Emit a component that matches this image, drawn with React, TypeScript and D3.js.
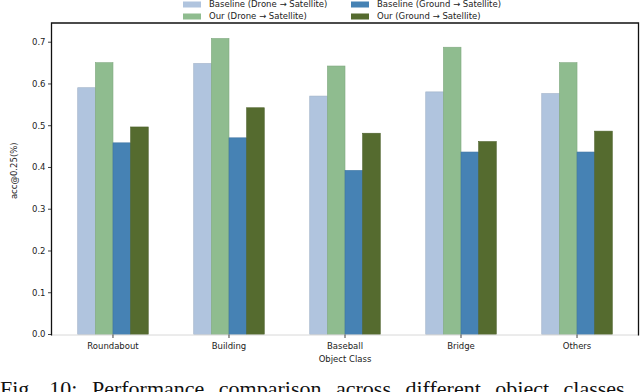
import React, { useRef, useEffect } from "react";
import * as d3 from "d3";

const categories = ["Roundabout", "Building", "Baseball", "Bridge", "Others"];
const seriesNames = [
  "Baseline (Drone \u2192 Satellite)",
  "Our (Drone \u2192 Satellite)",
  "Baseline (Ground \u2192 Satellite)",
  "Our (Ground \u2192 Satellite)",
];
const baselineDrone = [0.591, 0.649, 0.571, 0.581, 0.577];
const ourDrone = [0.651, 0.709, 0.643, 0.688, 0.651];
const baselineGround = [0.459, 0.471, 0.393, 0.437, 0.437];
const ourGround = [0.497, 0.543, 0.482, 0.462, 0.487];
const yTicks = [0.0, 0.1, 0.2, 0.3, 0.4, 0.5, 0.6, 0.7];
const colors = ["#b0c4de", "#8fbc8f", "#4682b4", "#556b2f"];

function App() {
  const svgRef = useRef<SVGSVGElement>(null);

  useEffect(() => {
    const svg = d3.select(svgRef.current);
    svg.selectAll("*").remove();

    const width = 640;
    const height = 392;
    const left = 51.5, right = 638.5, top = 23, bottom = 334.5;
    const font = "DejaVu Sans, sans-serif";

    svg.attr("width", width).attr("height", height);

    // scales
    const x = d3.scaleLinear().domain([-0.53, categories.length - 1 + 0.53]).range([left, right]);
    const y = d3.scaleLinear().domain([0, 0.746]).range([bottom, top]);
    const barW = 0.152;
    const series = [baselineDrone, ourDrone, baselineGround, ourGround];

    // bars
    series.forEach((vals, s) => {
      svg.append("g")
        .selectAll("rect")
        .data(vals)
        .join("rect")
        .attr("x", (d, i) => x(i + (s - 1.5) * barW - barW / 2))
        .attr("width", x(barW) - x(0))
        .attr("y", d => y(d))
        .attr("height", d => y(0) - y(d))
        .attr("fill", colors[s])
        .attr("stroke", d3.color(colors[s])!.darker(0.3).toString())
        .attr("stroke-width", 0.6);
    });

    // spines
    svg.append("line")
      .attr("x1", left).attr("x2", right).attr("y1", bottom + 0.5).attr("y2", bottom + 0.5)
      .attr("stroke", "#d8d8d8").attr("stroke-width", 1);
    svg.append("path")
      .attr("d", `M${left},${bottom + 1}V${top}H${right}V${bottom + 1}`)
      .attr("fill", "none").attr("stroke", "#111").attr("stroke-width", 1.3);

    // y axis
    const yg = svg.append("g");
    yTicks.forEach(t => {
      yg.append("line")
        .attr("x1", left - 3.5).attr("x2", left).attr("y1", y(t)).attr("y2", y(t))
        .attr("stroke", "#111").attr("stroke-width", 0.8);
      yg.append("text")
        .attr("x", left - 6).attr("y", y(t)).attr("dy", "0.35em")
        .attr("text-anchor", "end")
        .style("font-family", font).style("font-size", "8.5px").attr("fill", "#222")
        .text(t.toFixed(1));
    });
    svg.append("text")
      .attr("transform", `translate(14,${(top + bottom) / 2 - 8}) rotate(-90)`)
      .attr("text-anchor", "middle").attr("dy", "0.35em")
      .style("font-family", font).style("font-size", "8.5px").attr("fill", "#222")
      .text("acc@0.25(%)");

    // x axis
    const xg = svg.append("g");
    categories.forEach((c, i) => {
      xg.append("line")
        .attr("x1", x(i)).attr("x2", x(i)).attr("y1", bottom).attr("y2", bottom + 3.5)
        .attr("stroke", "#111").attr("stroke-width", 0.8);
      xg.append("text")
        .attr("x", x(i)).attr("y", bottom + 12).attr("dy", "0.35em")
        .attr("text-anchor", "middle")
        .style("font-family", font).style("font-size", "8.5px").attr("fill", "#222")
        .text(c);
    });
    svg.append("text")
      .attr("x", (left + right) / 2).attr("y", bottom + 25).attr("dy", "0.35em")
      .attr("text-anchor", "middle")
      .style("font-family", font).style("font-size", "8.5px").attr("fill", "#222")
      .text("Object Class");

    // legend: two columns, baselines on top row
    const legendX = [183, 351];
    const legendY = [4.5, 16.5];
    series.forEach((_, s) => {
      const lx = legendX[s < 2 ? 0 : 1];
      const ly = legendY[s % 2];
      svg.append("rect")
        .attr("x", lx).attr("y", ly - 3).attr("width", 18).attr("height", 6)
        .attr("fill", colors[s]);
      svg.append("text")
        .attr("x", lx + 26).attr("y", ly).attr("dy", "0.35em")
        .style("font-family", font).style("font-size", "8.5px").attr("fill", "#222")
        .text(seriesNames[s]);
    });

    // caption (cropped at the bottom of the figure, as in the source)
    svg.append("text")
      .attr("x", 0).attr("y", 396)
      .style("font-family", "Liberation Serif, serif").style("font-size", "22px")
      .style("word-spacing", "9px").attr("fill", "#111")
      .text("Fig. 10:  Performance comparison across different object classes.");
  }, []);

  return (
    <div>
      <svg ref={svgRef} style={{ position: "absolute", left: 0, top: 0, background: "#fff" }} />
    </div>
  );
}

export default App;
